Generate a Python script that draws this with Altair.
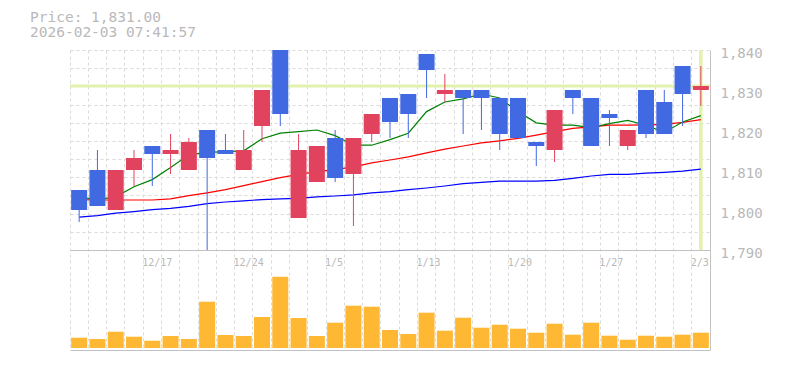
import altair as alt
import pandas as pd

# ---------------- data ----------------
dates = ["12/11", "12/12", "12/15", "12/16", "12/17", "12/18", "12/19", "12/22", "12/23",
         "12/24", "12/25", "12/26", "12/29", "12/30", "1/5", "1/6", "1/7", "1/8", "1/9",
         "1/13", "1/14", "1/15", "1/16", "1/19", "1/20", "1/21", "1/22", "1/23", "1/26",
         "1/27", "1/28", "1/29", "1/30", "2/2", "2/3"]

opens = [1805, 1810, 1800, 1810, 1816, 1814, 1810, 1820, 1815, 1810, 1821, 1840, 1798, 1807,
         1818, 1809, 1819, 1828, 1829, 1839, 1829, 1830, 1830, 1828, 1828, 1817, 1815, 1830,
         1828, 1824, 1816, 1830, 1827, 1836, 1830]
highs = [1805, 1815, 1810, 1815, 1816, 1819, 1818, 1820, 1819, 1820, 1830, 1840, 1819, 1816,
         1820, 1818, 1824, 1828, 1829, 1839, 1834, 1830, 1830, 1828, 1828, 1817, 1825, 1830,
         1828, 1825, 1820, 1830, 1830, 1836, 1836]
lows = [1797, 1801, 1800, 1806, 1806, 1809, 1810, 1790, 1814, 1810, 1817, 1821, 1798, 1807,
        1807, 1796, 1817, 1818, 1818, 1828, 1827, 1819, 1820, 1815, 1818, 1811, 1812, 1824,
        1816, 1816, 1815, 1818, 1819, 1821, 1826]
closes = [1800, 1801, 1810, 1813, 1814, 1815, 1817, 1813, 1814, 1815, 1830, 1824, 1815, 1816,
          1808, 1818, 1824, 1822, 1824, 1835, 1830, 1828, 1828, 1819, 1818, 1816, 1825, 1828,
          1816, 1823, 1820, 1819, 1819, 1829, 1831]

ma5 = [1803.2, 1802.6, 1803.3, 1805.8, 1807.6, 1810.6, 1813.8, 1814.4, 1814.6, 1814.8, 1817.8,
       1819.2, 1819.6, 1820.0, 1818.6, 1816.2, 1816.2, 1817.6, 1819.2, 1824.6, 1827.0, 1827.8,
       1829.0, 1828.0, 1824.6, 1821.8, 1821.2, 1821.2, 1820.6, 1821.6, 1822.4, 1821.2, 1819.4,
       1822.0, 1823.6]
ma25 = [1802.6, 1802.5, 1802.5, 1802.5, 1802.5, 1802.8, 1803.6, 1804.3, 1805.1, 1806.1, 1807.1,
        1808.1, 1808.9, 1809.6, 1810.1, 1810.8, 1811.8, 1812.5, 1813.3, 1814.3, 1815.2, 1816.0,
        1816.8, 1817.3, 1817.9, 1818.7, 1819.6, 1820.4, 1820.8, 1821.2, 1821.2, 1821.3, 1821.4,
        1821.9, 1822.6]
ma75 = [1798.2, 1798.6, 1799.2, 1799.6, 1800.1, 1800.4, 1800.9, 1801.6, 1802.0, 1802.3, 1802.6,
        1802.8, 1802.9, 1803.3, 1803.5, 1803.8, 1804.3, 1804.6, 1805.1, 1805.5, 1806.0, 1806.6,
        1806.9, 1807.2, 1807.2, 1807.2, 1807.4, 1807.9, 1808.5, 1808.9, 1808.9, 1809.2, 1809.4,
        1809.7, 1810.2]

volume = [103, 90, 163, 113, 73, 120, 90, 463, 130, 120, 310, 713, 300, 120, 253, 423, 413,
          180, 140, 353, 173, 303, 203, 233, 193, 153, 243, 133, 253, 123, 83, 123, 113, 133, 153]

tick_dates = ["12/17", "12/24", "1/5", "1/13", "1/20", "1/27", "2/3"]
price_ticks = [1790, 1800, 1810, 1820, 1830, 1840]
grid_levels = list(range(12))
title_lines = ["Price: 1,831.00", "2026-02-03 07:41:57"]

# ---------------- styling ----------------
MONO = "DejaVu Sans Mono"
RED = "#e1435f"
BLUE = "#4169e1"
ORANGE = "#ffb833"
YEL = "#e2f1ae"
GRID = "#dadada"
AXIS = "#c2c2c2"
TXT = "#b9b9b9"

df = pd.DataFrame({
    "date": dates, "open": opens, "high": highs, "low": lows, "close": closes,
    "ma5": ma5, "ma25": ma25, "ma75": ma75, "volume": volume,
})
df["dir"] = ["up" if c >= o else "down" for o, c in zip(opens, closes)]
df_last = df.iloc[[-1]]

xscale = alt.Scale(type="band", paddingInner=0, paddingOuter=0)
xaxis = alt.Axis(bandPosition=0, grid=True, gridDash=[3, 3], gridColor=GRID, gridWidth=1,
                 labels=False, ticks=False, domain=True, domainColor=AXIS, title=None)


def X(**kw):
    return alt.X("date:O", sort=dates, scale=xscale, axis=xaxis, **kw)


yscale = alt.Scale(domain=[1765, 1840], nice=False, zero=False)
yaxis = alt.Axis(orient="right", values=price_ticks, format=",.0f", labelFont=MONO,
                 labelFontSize=14, labelColor=TXT, ticks=False, grid=False, domain=True,
                 domainColor=AXIS, labelPadding=10, labelOffset=3, title=None)


def YP(f):
    return alt.Y(f, type="quantitative", scale=yscale, axis=yaxis)


color_enc = alt.Color("dir:N", scale=alt.Scale(domain=["up", "down"], range=[RED, BLUE]),
                      legend=None)

# horizontal grid (11 equal divisions of the price pane)
grid = alt.Chart(pd.DataFrame({"g": grid_levels})).mark_point(opacity=0).encode(
    y=alt.Y("g:Q", scale=alt.Scale(domain=[-5.5, 11], nice=False, zero=False),
            axis=alt.Axis(orient="left", values=grid_levels, grid=True,
                          gridDash={"condition": {"test": "datum.value === 0", "value": []},
                                    "value": [3, 3]},
                          gridColor={"condition": {"test": "datum.value === 0", "value": AXIS},
                                     "value": GRID},
                          labels=False, ticks=False, domain=False, title=None))
)

base = alt.Chart(df)
hline = alt.Chart(df_last).mark_rule(color=YEL, strokeWidth=3).encode(y=YP("close"))
vline = alt.Chart(df_last).mark_rule(color=YEL, strokeWidth=3.5).encode(
    x=X(), y=alt.datum(price_ticks[-1]), y2=alt.datum(price_ticks[0]))
line75 = base.mark_line(color="#0000ff", strokeWidth=1.2).encode(x=X(), y=YP("ma75"))
line25 = base.mark_line(color="#ff0000", strokeWidth=1.2).encode(x=X(), y=YP("ma25"))
line5 = base.mark_line(color="#008000", strokeWidth=1.2).encode(x=X(), y=YP("ma5"))
wicks = base.mark_rule(strokeWidth=1, clip=True).encode(
    x=X(), y=YP("low"), y2="high:Q", color=color_enc)
bodies = base.mark_bar(width=16, clip=True).encode(
    x=X(), y=YP("open"), y2="close:Q", color=color_enc)

price = alt.layer(hline, vline, line75, line25, line5, wicks, bodies)

vol = base.mark_bar(width=16, color=ORANGE).encode(
    x=X(),
    y=alt.Y("volume:Q", scale=alt.Scale(domain=[-20, 2980], nice=False), axis=None),
)

labels = alt.Chart(pd.DataFrame({"date": tick_dates})).mark_text(
    align="left", baseline="middle", font=MONO, fontSize=10, color=TXT, dx=-1
).encode(x=X(bandPosition=0), y=alt.value(212.5), text="date:N")

title = alt.Chart(pd.DataFrame({"t": ["\n".join(title_lines)]})).mark_text(
    align="left", baseline="alphabetic", lineBreak="\n", lineHeight=15, font=MONO,
    fontSize=14.5, color=TXT
).encode(x=alt.value(-40), y=alt.value(-28), text="t:N")

chart = (
    alt.layer(grid, price, vol, labels, title)
    .resolve_scale(y="independent")
    .properties(width=640, height=300,
                padding={"left": 62, "top": 42, "right": 65, "bottom": 10},
                autosize=alt.AutoSizeParams(type="none"))
    .configure_view(stroke=None)
)

chart.save("out.html", embed_options={"renderer": "svg", "actions": False})
